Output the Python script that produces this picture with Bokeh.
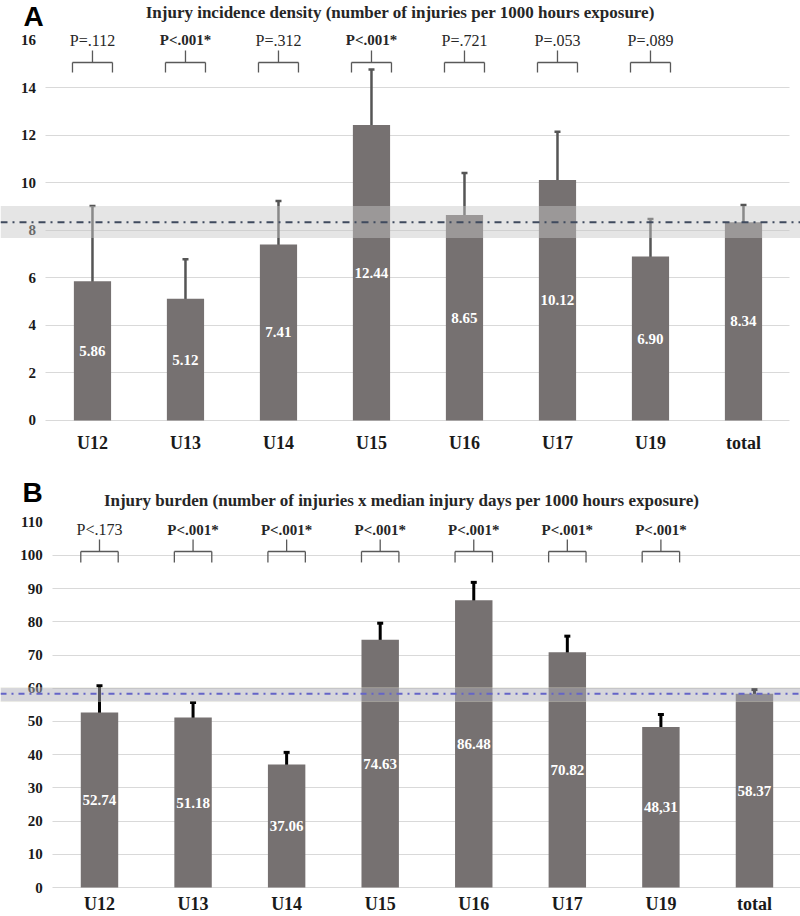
from bokeh.plotting import figure
from bokeh.models import (ColumnDataSource, Range1d, Whisker, TeeHead, BoxAnnotation,
                          Span, FixedTicker, Grid)
from bokeh.layouts import column
from bokeh.embed import file_html
from bokeh.resources import INLINE
from bokeh.core.properties import value

# ---------------- data ----------------
categories = ["U12", "U13", "U14", "U15", "U16", "U17", "U19", "total"]

# Panel A: injury incidence density
a_values = [5.86, 5.12, 7.41, 12.44, 8.65, 10.12, 6.90, 8.34]
a_labels = ["5.86", "5.12", "7.41", "12.44", "8.65", "10.12", "6.90", "8.34"]
a_upper = [9.03, 6.79, 9.24, 14.78, 10.42, 12.15, 8.48, 9.07]
a_lower = [3.76, 3.88, 5.99, 10.59, 7.17, 8.44, 5.61, 7.72]
a_pvals = ["P=.112", "P<.001*", "P=.312", "P<.001*", "P=.721", "P=.053", "P=.089"]
a_pbold = [False, True, False, True, False, False, False]
a_total_ci = (7.68, 9.03)
a_mean = 8.34
a_ticks = [0, 2, 4, 6, 8, 10, 12, 14, 16]

# Panel B: injury burden
b_values = [52.74, 51.18, 37.06, 74.63, 86.48, 70.82, 48.31, 58.37]
b_labels = ["52.74", "51.18", "37.06", "74.63", "86.48", "70.82", "48,31", "58.37"]
b_upper = [60.8, 55.7, 40.7, 79.6, 91.9, 75.7, 52.1, 59.6]
b_lower = [45.5, 46.7, 33.5, 69.5, 81.1, 65.9, 44.3, 56.3]
b_pvals = ["P<.173", "P<.001*", "P<.001*", "P<.001*", "P<.001*", "P<.001*", "P<.001*"]
b_pbold = [False, True, True, True, True, True, True]
b_total_ci = (56.0, 60.2)
b_mean = 58.37
b_ticks = [0, 10, 20, 30, 40, 50, 60, 70, 80, 90, 100, 110]

SERIF = "Liberation Serif"
SANS = "Liberation Sans"
BAR = "#767171"
HAS_CROSS = "cross_bounds" in Grid.properties()


def panel(letter, title, vals, labels, upper, lower, pvals, pbold, ci, mean, ticks,
          height, x_range, y_range, border_bottom, label_standoff, title_xy, letter_xy,
          p_text_y, stub_top, bracket_y, leg_y, half_w,
          err_color, err_width, band_color, band_alpha, band_line, mean_color, mean_dash):
    p = figure(x_range=Range1d(*x_range), y_range=Range1d(*y_range), width=800, height=height,
               output_backend="svg", toolbar_location=None, min_border_top=0,
               min_border_bottom=border_bottom, min_border_left=0, min_border_right=0)
    p.outline_line_color = None
    p.background_fill_color = "white"
    p.border_fill_color = "white"

    idx = list(range(len(categories)))
    # x axis: categories
    xa = p.xaxis[0]
    xa.ticker = FixedTicker(ticks=idx)
    xa.major_label_overrides = {i: c for i, c in zip(idx, categories)}
    xa.major_label_text_font_size = "18px"
    xa.major_label_standoff = label_standoff
    # y axis drawn at the left edge of the category area
    ya = p.yaxis[0]
    ya.ticker = FixedTicker(ticks=ticks)
    ya.fixed_location = -0.5
    ya.major_label_text_font_size = "15px"
    ya.major_label_standoff = 10
    for ax in (xa, ya):
        ax.axis_line_color = None
        ax.major_tick_line_color = None
        ax.minor_tick_line_color = None
        ax.major_tick_out = 0
        ax.major_tick_in = 0
        ax.major_label_text_font = SERIF
        ax.major_label_text_font_style = "bold"
        ax.major_label_text_color = "#1a1a1a"

    p.xgrid.grid_line_color = None
    grid_ticks = ticks[:-1]
    if HAS_CROSS:
        p.ygrid.ticker = FixedTicker(ticks=grid_ticks)
        p.ygrid.grid_line_color = "#d9d9d9"
        p.ygrid.cross_bounds = (-0.5, 7.5)
    else:
        p.ygrid.grid_line_color = None
        p.segment(x0=[-0.5] * len(grid_ticks), y0=grid_ticks, x1=[7.5] * len(grid_ticks),
                  y1=grid_ticks, line_color="#d9d9d9", line_width=1, level="underlay")

    src = ColumnDataSource(dict(x=idx, val=vals, half=[v / 2 for v in vals],
                                lab=labels, hi=upper, lo=lower))
    p.vbar(x="x", top="val", width=0.4, source=src, fill_color=BAR, line_color=None)

    w = Whisker(source=src, base="x", upper="hi", lower="lo", dimension="height",
                line_color=err_color, line_width=err_width,
                upper_head=TeeHead(size=6, line_color=err_color, line_width=err_width),
                lower_head=TeeHead(size=6, line_color=err_color, line_width=err_width))
    p.add_layout(w)

    p.text(x="x", y="half", text="lab", source=src, text_color="white",
           text_font=value(SERIF), text_font_style="bold", text_font_size="15px",
           text_align="center", text_baseline="middle")

    band = BoxAnnotation(bottom=ci[0], top=ci[1], fill_color=band_color, fill_alpha=band_alpha,
                         line_color=band_line if band_line else None, line_width=1,
                         level="annotation")
    p.add_layout(band)
    p.add_layout(Span(location=mean, dimension="width", line_color=mean_color,
                      line_width=2, line_dash=mean_dash, level="annotation"))

    n = len(pvals)
    px = idx[:n]
    psrc = ColumnDataSource(dict(x=px, txt=pvals,
                                 style=["bold" if b else "normal" for b in pbold],
                                 size=["15px" if b else "16px" for b in pbold],
                                 ty=[p_text_y] * n, s0=[stub_top] * n,
                                 by=[bracket_y] * n, ly=[leg_y] * n,
                                 xl=[i - half_w for i in px], xr=[i + half_w for i in px]))
    p.text(x="x", y="ty", text="txt", source=psrc, text_font=value(SERIF),
           text_font_style="style", text_font_size="size", text_color="#262626",
           text_align="center", text_baseline="middle")
    lc = "#595959"
    p.segment(x0="x", y0="s0", x1="x", y1="by", source=psrc, line_color=lc, line_width=1.3)
    p.segment(x0="xl", y0="by", x1="xr", y1="by", source=psrc, line_color=lc, line_width=1.3)
    p.segment(x0="xl", y0="by", x1="xl", y1="ly", source=psrc, line_color=lc, line_width=1.3)
    p.segment(x0="xr", y0="by", x1="xr", y1="ly", source=psrc, line_color=lc, line_width=1.3)

    # panel title and letter
    p.text(x=[title_xy[0]], y=[title_xy[1]], text=[title], text_font=value(SERIF),
           text_font_style="bold", text_font_size="17px", text_color="#262626",
           text_align="center", text_baseline="middle")
    p.text(x=[letter_xy[0]], y=[letter_xy[1]], text=[letter], text_font=value(SANS),
           text_font_style="bold", text_font_size="28px", text_color="black",
           text_align="center", text_baseline="middle")
    return p


pa = panel("A", "Injury incidence density (number of injuries per 1000 hours exposure)",
           a_values, a_labels, a_upper, a_lower, a_pvals, a_pbold, a_total_ci, a_mean, a_ticks,
           height=460, x_range=(-0.989, 7.613), y_range=(-0.337, 17.68),
           border_bottom=32, label_standoff=4,
           title_xy=(3.31, 17.17), letter_xy=(-0.634, 17.02),
           p_text_y=16.0, stub_top=15.58, bracket_y=15.07, leg_y=14.65, half_w=0.215,
           err_color="#555555", err_width=2.5, band_color="#c6c6c6", band_alpha=0.46,
           band_line=None, mean_color="#3f4a5e", mean_dash="7 5 2 5")

pb = panel("B", "Injury burden (number of injuries x median injury days per 1000 hours exposure)",
           b_values, b_labels, b_upper, b_lower, b_pvals, b_pbold, b_total_ci, b_mean, b_ticks,
           height=456, x_range=(-1.058, 7.492), y_range=(-1.8, 128.6),
           border_bottom=21, label_standoff=0,
           title_xy=(3.23, 116.6), letter_xy=(-0.716, 119.0),
           p_text_y=107.8, stub_top=104.8, bracket_y=101.2, leg_y=97.9, half_w=0.2,
           err_color="#000000", err_width=3, band_color="#adadb8", band_alpha=0.5,
           band_line="#ecebd0", mean_color="#6464c8", mean_dash="6 5 2 5")

layout = column(pa, pb, spacing=0)
open("out.html", "w").write(file_html(layout, INLINE))
